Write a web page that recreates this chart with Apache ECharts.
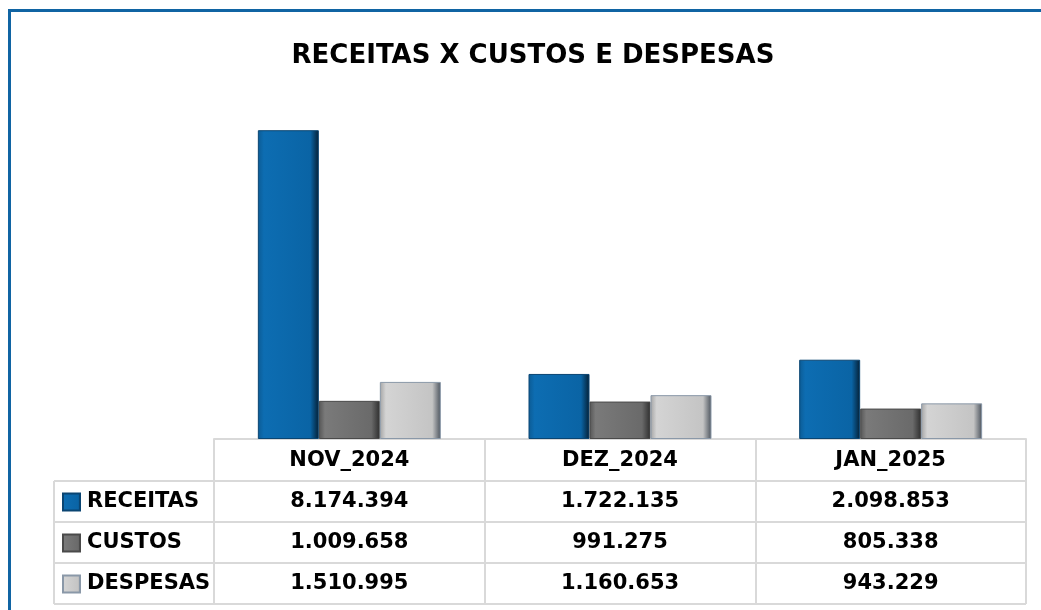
<!DOCTYPE html>
<html>
<head>
<meta charset="utf-8">
<script src="https://cdn.jsdelivr.net/npm/echarts@6/dist/echarts.min.js"></script>
<style>
html,body{margin:0;padding:0;background:#fff;}
#chart{width:1041px;height:610px;}
</style>
</head>
<body>
<div id="chart"></div>
<script>
// ---- data ----
const categories = ['NOV_2024', 'DEZ_2024', 'JAN_2025'];
const seriesNames = ['RECEITAS', 'CUSTOS', 'DESPESAS'];
const receitas = [8174394, 1722135, 2098853];
const custos = [1009658, 991275, 805338];
const despesas = [1510995, 1160653, 943229];
const titleText = 'RECEITAS X CUSTOS E DESPESAS';

// ---- helpers ----
function fmt(n) {
  return String(n).replace(/\B(?=(\d{3})+(?!\d))/g, '.');
}
function hGrad(c0, c1, c2, c3) {
  return new echarts.graphic.LinearGradient(0, 0, 1, 0, [
    { offset: 0, color: c0 },
    { offset: 0.1, color: c1 },
    { offset: 0.86, color: c2 },
    { offset: 1, color: c3 }
  ]);
}
const FONT = 'DejaVu Sans';
const lineCol = '#d9d9d9';
const allValues = [receitas, custos, despesas];

const chart = echarts.init(document.getElementById('chart'), null, { renderer: 'canvas' });

const tableRowsY = [481, 522, 563, 604];
const graphics = [
  { type: 'rect', shape: { x: 9.5, y: 10.5, width: 1200, height: 800 }, style: { fill: 'none', stroke: '#1064a3', lineWidth: 3 }, silent: true }
];
tableRowsY.forEach(y => graphics.push({ type: 'line', shape: { x1: 54, y1: y, x2: 1026, y2: y }, style: { stroke: lineCol, lineWidth: 2 }, silent: true }));
graphics.push({ type: 'line', shape: { x1: 54, y1: 481, x2: 54, y2: 604 }, style: { stroke: lineCol, lineWidth: 2 }, silent: true });

const option = {
  backgroundColor: '#fff',
  animation: false,
  title: {
    text: titleText,
    left: 528,
    top: 38,
    textAlign: 'center',
    textStyle: { fontFamily: FONT, fontWeight: 'bold', fontSize: 26, color: '#000' }
  },
  legend: {
    data: seriesNames,
    orient: 'vertical',
    left: 62,
    top: 490,
    padding: 0,
    itemWidth: 17,
    itemHeight: 17,
    itemGap: 17,
    selectedMode: false,
    icon: 'rect',
    textStyle: { fontFamily: FONT, fontWeight: 'bold', fontSize: 21, color: '#000', lineHeight: 24, padding: [0, 0, 0, 2] }
  },
  grid: { left: 214, right: 15, top: 99, bottom: 171, containLabel: false },
  xAxis: {
    type: 'category',
    data: categories,
    boundaryGap: true,
    axisLine: { show: true, lineStyle: { color: lineCol, width: 2 } },
    axisTick: { show: true, interval: 0, length: 165, lineStyle: { color: lineCol, width: 2 } },
    axisLabel: {
      interval: 0,
      margin: 1,
      fontFamily: FONT,
      fontWeight: 'bold',
      fontSize: 21,
      color: '#000',
      lineHeight: 41,
      formatter: function (value, idx) {
        const lines = [value];
        allValues.forEach(arr => lines.push(fmt(arr[idx])));
        return lines.join('\n');
      }
    }
  },
  yAxis: {
    type: 'value',
    show: false,
    min: 0,
    max: 9000000,
    splitLine: { show: false }
  },
  series: [
    {
      name: seriesNames[0], type: 'bar', data: receitas,
      barGap: '0%', barCategoryGap: '32.4%',
      itemStyle: { color: hGrad('#0c5b94', '#0d6db2', '#0a64a5', '#051f33'), borderColor: '#0a4572', borderWidth: 1 }
    },
    {
      name: seriesNames[1], type: 'bar', data: custos,
      itemStyle: { color: hGrad('#555555', '#7a7a7a', '#6a6a6a', '#2e2e2e'), borderColor: '#4a4a4a', borderWidth: 1 }
    },
    {
      name: seriesNames[2], type: 'bar', data: despesas,
      itemStyle: { color: hGrad('#a4a4a4', '#d4d4d4', '#c4c4c4', '#4a525c'), borderColor: '#8a98a8', borderWidth: 1 }
    }
  ],
  graphic: graphics
};
chart.setOption(option);
</script>
</body>
</html>
